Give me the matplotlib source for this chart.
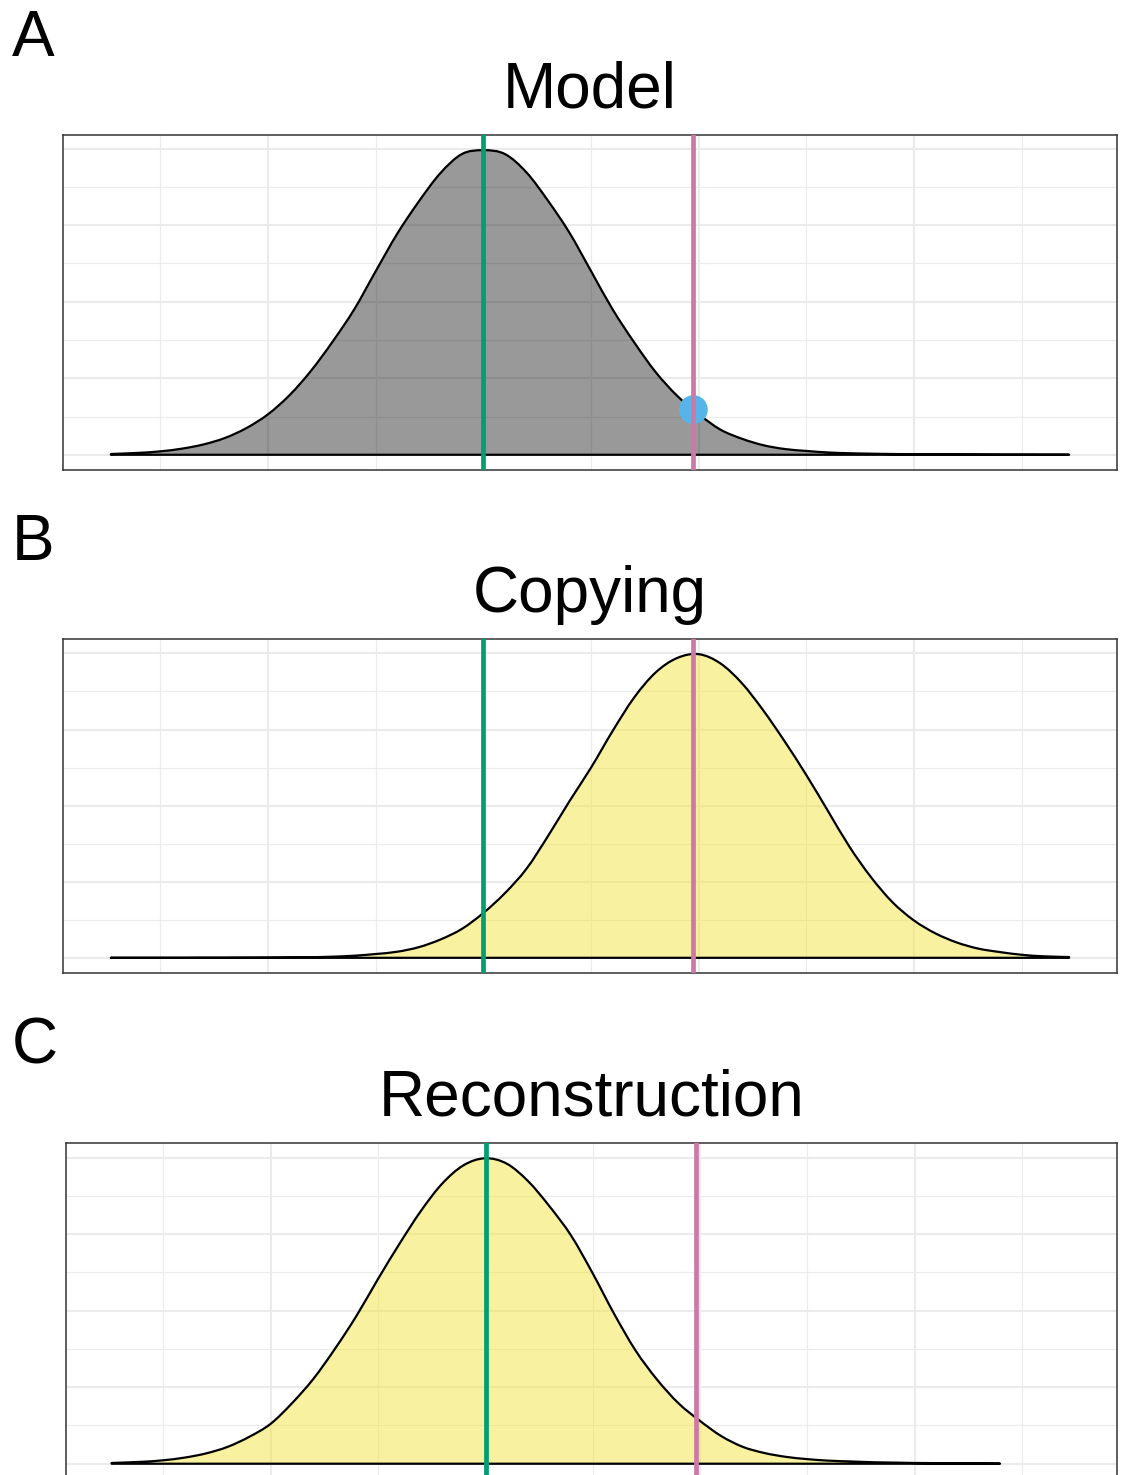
import numpy as np
import matplotlib
matplotlib.use("Agg")
import matplotlib.pyplot as plt
from matplotlib.ticker import MultipleLocator
from matplotlib.path import Path
from matplotlib.patches import PathPatch

plt.rcParams['font.family'] = ['Liberation Sans', 'DejaVu Sans']

# ---------------- data ----------------
x_ab = [-3.46, -3.2, -3.0, -2.8, -2.6, -2.4, -2.2, -2.0, -1.8, -1.6, -1.4, -1.2,
        -1.0, -0.8, -0.6, -0.4, -0.2, 0.0, 0.2, 0.4, 0.6, 0.8, 1.0, 1.2, 1.4,
        1.6, 1.8, 2.0, 2.2, 2.4, 2.6, 2.8, 3.0, 3.2, 3.4, 3.6, 3.8, 4.0, 4.2,
        4.4, 4.6, 4.8, 5.0, 5.2, 5.44]

dens_model = [0.001, 0.0025, 0.0045, 0.008, 0.0135, 0.022, 0.035, 0.053, 0.078,
              0.110, 0.148, 0.190, 0.240, 0.289, 0.331, 0.368, 0.393, 0.398,
              0.393, 0.369, 0.332, 0.290, 0.240, 0.190, 0.147, 0.108, 0.077,
              0.053, 0.033, 0.021, 0.0125, 0.0075, 0.005, 0.003, 0.002, 0.0014,
              0.001, 0.0007, 0.0005, 0.0004, 0.0003, 0.0002, 0.0002, 0.0001, 0.0001]

dens_copying = [0.0, 0.0, 0.0, 0.0, 0.0001, 0.0001, 0.0002, 0.0003, 0.0005,
                0.0008, 0.0015, 0.0028, 0.005, 0.008, 0.014, 0.024, 0.038, 0.059,
                0.085, 0.117, 0.160, 0.206, 0.250, 0.298, 0.342, 0.375, 0.394,
                0.399, 0.387, 0.361, 0.325, 0.284, 0.240, 0.193, 0.146, 0.106,
                0.073, 0.049, 0.032, 0.020, 0.012, 0.0075, 0.004, 0.002, 0.001]

x_c = [-3.48, -3.2, -3.0, -2.8, -2.6, -2.4, -2.2, -2.0, -1.8, -1.6, -1.4, -1.2,
       -1.0, -0.8, -0.6, -0.4, -0.2, 0.0, 0.2, 0.4, 0.6, 0.8, 1.0, 1.2, 1.4,
       1.6, 1.8, 2.0, 2.2, 2.4, 2.6, 2.8, 3.0, 3.2, 3.4, 3.6, 3.8, 4.0, 4.2,
       4.4, 4.6, 4.795]

dens_recon = [0.001, 0.0025, 0.0045, 0.008, 0.0135, 0.022, 0.035, 0.052, 0.079,
              0.111, 0.150, 0.193, 0.241, 0.287, 0.330, 0.366, 0.390, 0.399,
              0.392, 0.369, 0.336, 0.298, 0.249, 0.196, 0.148, 0.110, 0.079,
              0.056, 0.036, 0.022, 0.014, 0.009, 0.006, 0.004, 0.003, 0.002,
              0.0015, 0.001, 0.0008, 0.0005, 0.0003, 0.0002]

green_x = [0.0, 0.0, 0.01]
pink_x = [1.95, 1.95, 1.96]
point_x = 1.95
point_y = 0.059

titles = ["Model", "Copying", "Reconstruction"]
letters = ["A", "B", "C"]

# ---------------- styling ----------------
W, H = 1123, 1475
DPI = 100
fig = plt.figure(figsize=(W / DPI, H / DPI), dpi=DPI)
fig.patch.set_facecolor('white')

GREEN = '#009E73'
PINK = '#CC79A7'
BLUE = '#56B4E9'
YEL = (0xF0 / 255, 0xE4 / 255, 0x42 / 255, 0.5)
fills = [(0, 0, 0, 0.4), YEL, YEL]

# panel pixel boxes (left, top, right, bottom)
boxes = [(63, 135, 1117, 470), (63, 639, 1117, 973), (66, 1143, 1117, 1479)]
title_base = [108, 612, 1116]
letter_base = [56, 560, 1064]

xs_all = [x_ab, x_ab, x_c]
ys_all = [dens_model, dens_copying, dens_recon]

xmin, xmax = x_ab[0], x_ab[-1]
xr = xmax - xmin
xlim = (xmin - 0.05 * xr, xmax + 0.05 * xr)


def smooth_density_path(x, y):
    """Closed path: smooth (Catmull-Rom as cubic Bezier) through the read
    points, then straight back along the baseline."""
    P = np.column_stack([x, y])
    n = len(P)
    verts = [P[0]]
    codes = [Path.MOVETO]
    for k in range(n - 1):
        p0 = P[k - 1] if k > 0 else P[k]
        p1 = P[k]
        p2 = P[k + 1]
        p3 = P[k + 2] if k + 2 < n else P[k + 1]
        c1 = p1 + (p2 - p0) / 6.0
        c2 = p2 - (p3 - p1) / 6.0
        c1[1] = max(c1[1], 0.0)
        c2[1] = max(c2[1], 0.0)
        verts += [c1, c2, p2]
        codes += [Path.CURVE4] * 3
    verts += [(x[-1], 0.0), (x[0], 0.0), (x[0], y[0])]
    codes += [Path.LINETO, Path.LINETO, Path.CLOSEPOLY]
    return Path(np.array(verts, dtype=float), codes)


for i in range(3):
    l, t, r, b = boxes[i]
    ax = fig.add_axes([l / W, (H - b) / H, (r - l) / W, (b - t) / H])
    x = np.array(xs_all[i], dtype=float)
    y = np.array(ys_all[i], dtype=float)
    ymax = y.max()
    ax.set_xlim(*xlim)
    ax.set_ylim(-0.05 * ymax, 1.05 * ymax)

    ax.xaxis.set_major_locator(MultipleLocator(2))
    ax.xaxis.set_minor_locator(MultipleLocator(1))
    ax.yaxis.set_major_locator(MultipleLocator(0.1))
    ax.yaxis.set_minor_locator(MultipleLocator(0.05))
    ax.grid(which='major', color='#EBEBEB', lw=1.5)
    ax.grid(which='minor', color='#EBEBEB', lw=0.8)
    ax.set_axisbelow(True)
    ax.tick_params(which='both', length=0, labelbottom=False, labelleft=False)
    for s in ax.spines.values():
        s.set_color('#333333')
        s.set_linewidth(1.1)

    path = smooth_density_path(x, y)
    ax.add_patch(PathPatch(path, facecolor=fills[i], edgecolor='none', zorder=2))
    ax.add_patch(PathPatch(path, facecolor='none', edgecolor='black', lw=1.6,
                           zorder=3, joinstyle='round'))

    if i == 0:
        ax.scatter([point_x], [point_y], s=430, color=BLUE, zorder=4,
                   edgecolors='none')

    ax.axvline(green_x[i], color=GREEN, lw=3.4, zorder=5)
    ax.axvline(pink_x[i], color=PINK, lw=3.4, zorder=5)

    cx = (l + r) / 2 / W
    fig.text(cx, (H - title_base[i]) / H, titles[i], ha='center', va='baseline',
             fontsize=46)
    fig.text(12 / W, (H - letter_base[i]) / H, letters[i], ha='left',
             va='baseline', fontsize=46)

fig.savefig('out.png', dpi=DPI, facecolor='white')
